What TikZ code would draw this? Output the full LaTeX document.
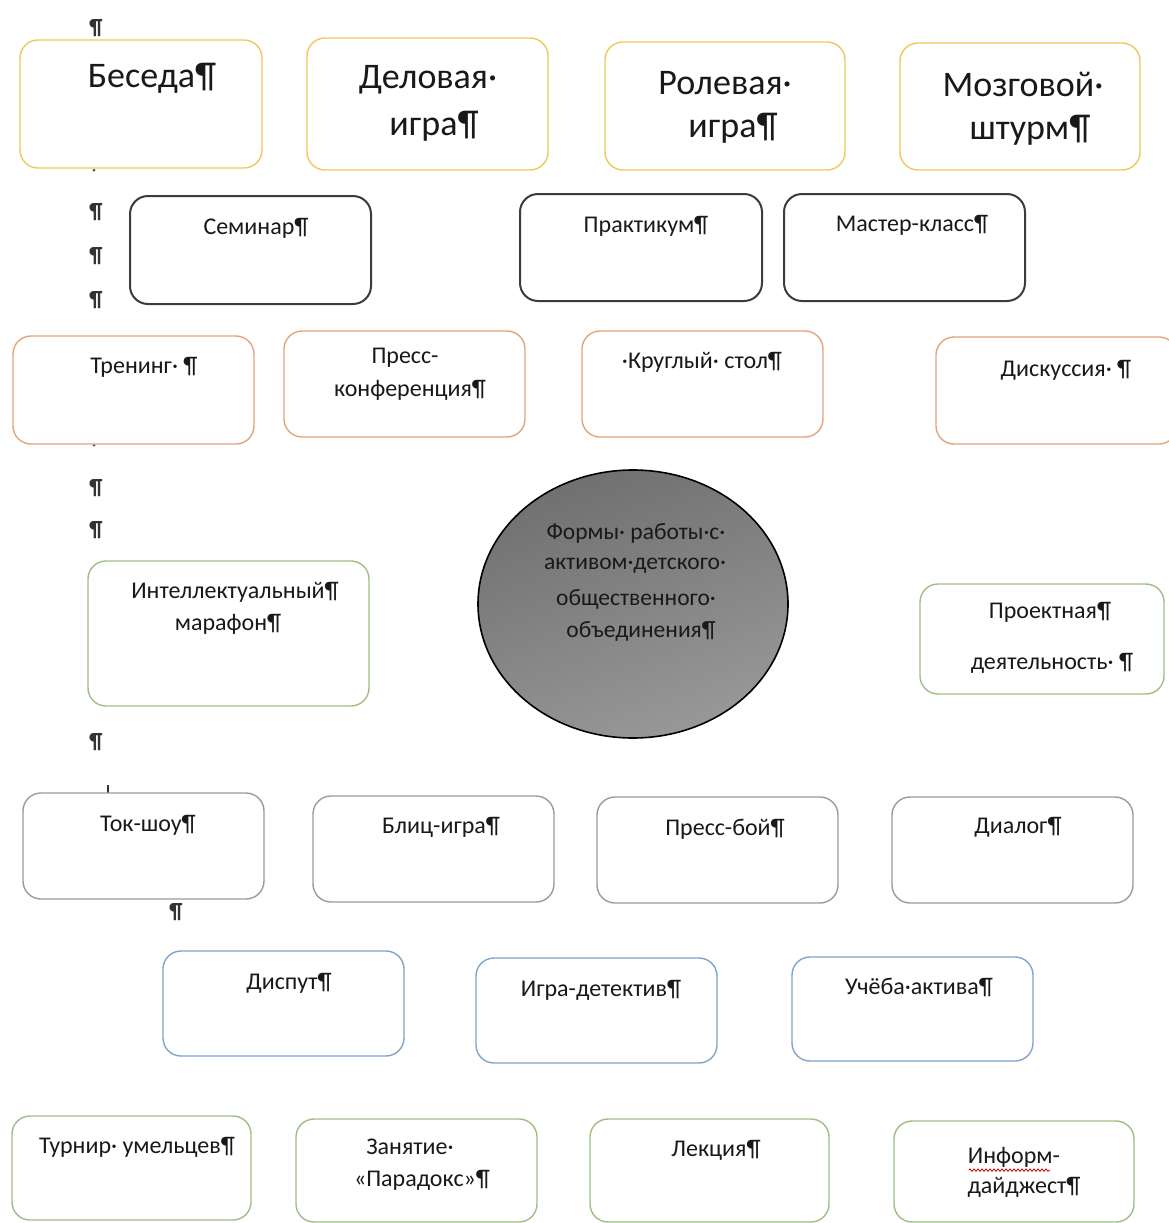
\documentclass[tikz,border=0pt]{standalone}
\usepackage{fontspec}
\setmainfont{Carlito}
\usetikzlibrary{shapes.geometric,decorations.pathmorphing}
\definecolor{cyel}{RGB}{240,200,90}
\definecolor{cdark}{RGB}{60,60,60}
\definecolor{cora}{RGB}{225,165,125}
\definecolor{cgrn}{RGB}{160,190,130}
\definecolor{cgry}{RGB}{155,155,155}
\definecolor{cblu}{RGB}{125,165,205}
\definecolor{ctxt}{RGB}{25,25,25}
\definecolor{ctop}{RGB}{112,112,112}
\definecolor{cbot}{RGB}{152,152,152}
\tikzset{
  boxc/.style={draw=#1, rounded corners=18pt, inner sep=0pt, line width=1.4pt, fill=white},
  yel/.style={boxc=cyel},
  dark/.style={boxc=cdark, line width=2pt},
  ora/.style={boxc=cora},
  grn/.style={boxc=cgrn},
  gry/.style={boxc=cgry},
  blu/.style={boxc=cblu},
  sz/.style 2 args={minimum width=#1pt, minimum height=#2pt},
  tx/.style={inner sep=0pt, text=ctxt, font=\fontsize{24}{28}\selectfont},
  tbig/.style={inner sep=0pt, text=ctxt, font=\fontsize{36}{42}\selectfont},
  tcirc/.style={inner sep=0pt, text=ctxt, font=\fontsize{23.5}{27}\selectfont},
  pmark/.style={inner sep=0pt, text=black!80, font=\bfseries\fontsize{22}{26}\selectfont},
}
\begin{document}
\begin{tikzpicture}[x=1pt,y=-1pt]
\useasboundingbox (0,0) rectangle (1169,1223);
% stray formatting marks
\node[pmark] (m1) at (96,28) {¶};
\node[pmark] (m2) at (96,212) {¶};
\node[pmark] (m3) at (96,256) {¶};
\node[pmark] (m4) at (96,300) {¶};
\node[pmark] (m5) at (96,488) {¶};
\node[pmark] (m6) at (96,530) {¶};
\node[pmark] (m7) at (96,742) {¶};
\node[pmark] (m8) at (176,912) {¶};
\coordinate (d1) at (94,170);
\coordinate (d2) at (94,445);
\coordinate (d3) at (92,570);
\coordinate (d4) at (108,785);
\fill[black!70] (d1) circle (1.5pt);
\fill[black!70] (d2) circle (1.5pt);
\draw[black!80, line width=2pt] (d3) -- ++(0,8);
\draw[black!80, line width=1.2pt] (d4) -- ++(0,8);

% row 1: yellow
\node[yel, sz={242}{128}] (beseda) at (141,104) {};
\node[yel, sz={241}{132}] (delov) at (427.5,104) {};
\node[yel, sz={240}{128}] (rolev) at (725,106) {};
\node[yel, sz={240}{127}] (mozg) at (1020,106.5) {};
\node[tbig] (tbeseda) at (152,78) {Беседа¶};
\node[tbig] (tdelov1) at (428,80) {Деловая·};
\node[tbig] (tdelov2) at (434,126) {игра¶};
\node[tbig] (trolev1) at (725,83) {Ролевая·};
\node[tbig] (trolev2) at (733,128) {игра¶};
\node[tbig] (tmozg1) at (1023,84) {Мозговой·};
\node[tbig] (tmozg2) at (1030,130) {штурм¶};

% row 2: dark
\node[dark, sz={241}{108}] (semin) at (250.5,250) {};
\node[dark, sz={242}{107}] (prakt) at (641,247.5) {};
\node[dark, sz={241}{107}] (master) at (904.5,247.5) {};
\node[tx] (tsemin) at (256,228) {Семинар¶};
\node[tx] (tprakt) at (646,226) {Практикум¶};
\node[tx] (tmaster) at (912,225) {Мастер-класс¶};

% row 3: orange
\node[ora, sz={241}{108}] (trening) at (133.5,390) {};
\node[ora, sz={241}{106}] (presskonf) at (404.5,384) {};
\node[ora, sz={241}{106}] (krug) at (702.5,384) {};
\node[ora, sz={241}{107}] (disk) at (1056.5,390.5) {};
\node[tx] (ttrening) at (144,367) {Тренинг· ¶};
\node[tx] (tpress1) at (405,358) {Пресс-};
\node[tx] (tpress2) at (410,390) {конференция¶};
\node[tx] (tkrug) at (702,362) {·Круглый· стол¶};
\node[tx] (tdisk) at (1066,370) {Дискуссия· ¶};

% centre ellipse
\node[ellipse, draw=black, line width=1.6pt, top color=ctop, bottom color=cbot, shading angle=20, minimum width=310pt, minimum height=268pt, inner sep=0pt] (center) at (633,604) {};
\node[tcirc] (tc1) at (636,533) {Формы· работы·с·};
\node[tcirc] (tc2) at (635,566) {активом·детского·};
\node[tcirc] (tc3) at (636,599) {общественного·};
\node[tcirc] (tc4) at (641,631) {объединения¶};

% green middle
\node[grn, sz={281}{145}] (intel) at (228.5,633.5) {};
\node[grn, sz={244}{110}] (proekt) at (1042,639) {};
\node[tx] (tintel1) at (235,592) {Интеллектуальный¶};
\node[tx] (tintel2) at (228,624) {марафон¶};
\node[tx] (tproekt1) at (1050,612) {Проектная¶};
\node[tx] (tproekt2) at (1052,663) {деятельность· ¶};

% gray row
\node[gry, sz={241}{106}] (tok) at (143.5,846) {};
\node[gry, sz={241}{106}] (blitz) at (433.5,849) {};
\node[gry, sz={241}{106}] (pressboi) at (717.5,850) {};
\node[gry, sz={241}{106}] (dialog) at (1012.5,850) {};
\node[tx] (ttok) at (148,825) {Ток-шоу¶};
\node[tx] (tblitz) at (441,827) {Блиц-игра¶};
\node[tx] (tpressboi) at (725,829) {Пресс-бой¶};
\node[tx] (tdialog) at (1018,827) {Диалог¶};

% blue row
\node[blu, sz={241}{105}] (disput) at (283.5,1003.5) {};
\node[blu, sz={241}{105}] (detekt) at (596.5,1010.5) {};
\node[blu, sz={241}{104}] (ucheba) at (912.5,1009) {};
\node[tx] (tdisput) at (289,983) {Диспут¶};
\node[tx] (tdetekt) at (601,990) {Игра-детектив¶};
\node[tx] (tucheba) at (919,987) {Учёба·актива¶};

% green bottom row
\node[grn, sz={239}{104}] (turnir) at (131.5,1168) {};
\node[grn, sz={241}{103}] (paradoks) at (416.5,1170.5) {};
\node[grn, sz={239}{103}] (lekc) at (709.5,1170.5) {};
\node[grn, sz={240}{101}] (inform) at (1014,1171.5) {};
\node[tx] (tturnir) at (137,1147) {Турнир· умельцев¶};
\node[tx] (tpar1) at (410,1147) {Занятие·};
\node[tx] (tpar2) at (422,1180) {«Парадокс»¶};
\node[tx] (tlekc) at (716,1150) {Лекция¶};
\node[tx] (tinf1) at (1014,1157) {Информ-};
\node[tx] (tinf2) at (1024,1187) {дайджест¶};
\draw[red!80!black, line width=0.8pt, decorate, decoration={snake, amplitude=1.2pt, segment length=4pt}]
  ([xshift=1pt,yshift=-7pt]tinf1.base west) -- ([xshift=-10pt,yshift=-7pt]tinf1.base east);
\end{tikzpicture}
\end{document}
